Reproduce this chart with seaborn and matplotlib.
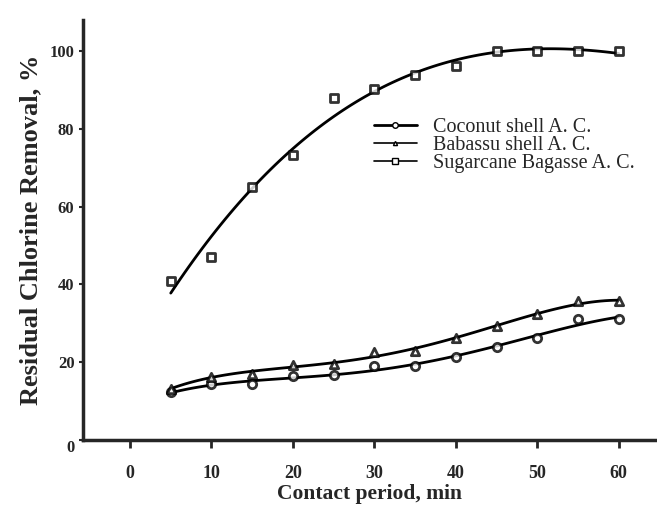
import matplotlib
matplotlib.use("Agg")
import matplotlib.pyplot as plt
from matplotlib.lines import Line2D
import seaborn as sns
import pandas as pd

# contact period, min
contact_min = [5, 10, 15, 20, 25, 30, 35, 40, 45, 50, 55, 60]

# residual chlorine removal, %
coconut = [12.2, 14.3, 14.3, 16.4, 16.6, 18.9, 19.0, 21.4, 23.9, 26.2, 31.0, 31.0]
babassu = [13.2, 16.3, 16.9, 19.2, 19.5, 22.6, 22.9, 26.1, 29.2, 32.3, 35.6, 35.6]
sugarcane = [40.9, 47.1, 65.1, 73.3, 87.8, 90.1, 93.9, 96.0, 100.1, 100.0, 100.0, 100.0]

labels = ["Coconut shell A. C.", "Babassu shell A. C.", "Sugarcane Bagasse A. C."]
x_ticks = [0, 10, 20, 30, 40, 50, 60]
y_ticks = [0, 20, 40, 60, 80, 100]

sns.set_style("ticks")
plt.rcParams['font.family'] = ['Liberation Serif', 'DejaVu Serif']

fig = plt.figure(figsize=(6.57, 5.08), dpi=100)
ax = fig.add_axes([0.126, 0.134, 0.874, 0.827])

df = pd.DataFrame({"t": contact_min, "coco": coconut, "baba": babassu, "sugar": sugarcane})

series = [("coco", "o", 4, 6), ("baba", "^", 4, 6), ("sugar", "s", 3, 6)]
for col, mk, order, ms in series:
    sns.regplot(x="t", y=col, data=df, order=order, ci=None, ax=ax, marker=mk,
                scatter_kws={"s": ms ** 2, "facecolors": "white", "edgecolors": "black",
                             "linewidths": 2.0, "zorder": 3},
                line_kws={"color": "black", "lw": 2.0})

ax.set_xlim(-5.8, 64.7)
ax.set_ylim(0, 108)
ax.set_xticks(x_ticks)
ax.set_yticks(y_ticks)
ax.set_xticklabels([str(v) for v in x_ticks], fontweight="bold", fontsize=13)
ax.set_yticklabels([str(v) for v in y_ticks], fontweight="bold", fontsize=12)
ax.get_yticklabels()[0].set_va("top")  # the 0 sits below the axis line
ax.tick_params(axis="x", direction="out", length=6, width=2, pad=12)
ax.tick_params(axis="y", direction="out", length=3, width=1.5, pad=3)

for s in ["top", "right"]:
    ax.spines[s].set_visible(False)
for s in ["left", "bottom"]:
    ax.spines[s].set_linewidth(2.5)

ax.set_xlabel("Contact period, min", fontsize=15.5, fontweight="bold")
ax.xaxis.set_label_coords(0.5, -0.105)
ax.set_ylabel("Residual Chlorine Removal, %", fontsize=19, fontweight="bold", labelpad=5)

handles = [
    Line2D([], [], color="black", lw=2, marker="o", ms=4, mfc="white", mec="black"),
    Line2D([], [], color="black", lw=1.2, marker="^", ms=3, mfc="white", mec="black"),
    Line2D([], [], color="black", lw=1.2, marker="s", ms=4, mfc="white", mec="black"),
]
ax.legend(handles, labels, loc="upper left", bbox_to_anchor=(0.483, 0.80), frameon=False,
          fontsize=14.5, labelspacing=-0.05, handlelength=2.1, handletextpad=0.8,
          borderpad=0.2)

fig.savefig("out.png", dpi=100)
